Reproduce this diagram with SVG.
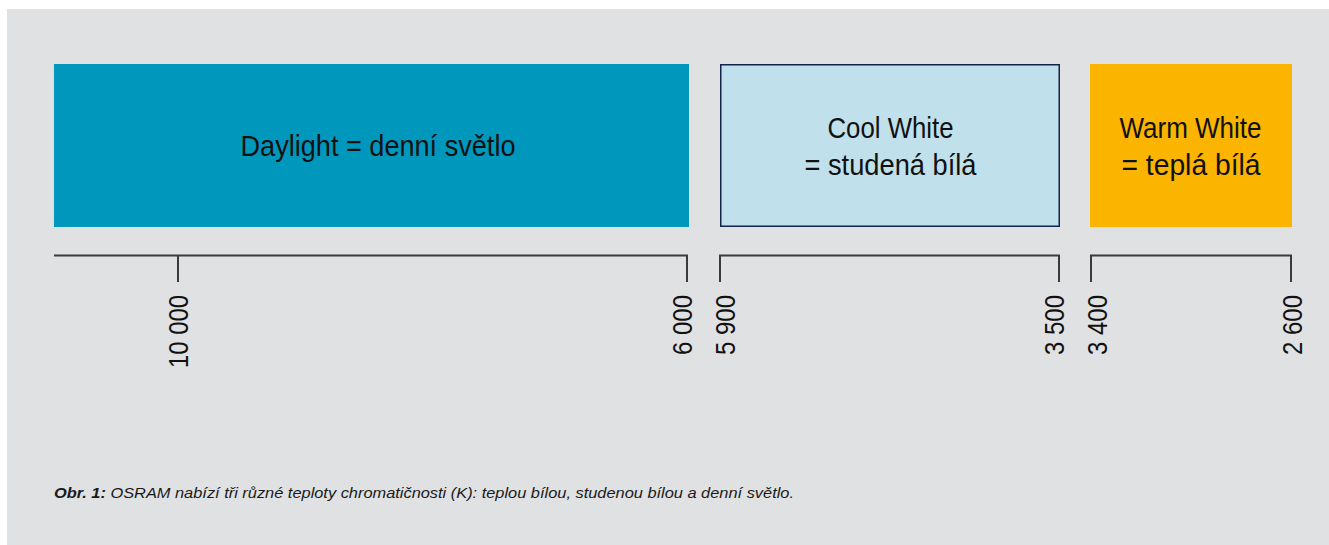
<svg xmlns="http://www.w3.org/2000/svg" width="1329" height="545" viewBox="0 0 1329 545">
<style>
.box{font-family:"Liberation Sans",Arial,sans-serif;font-size:29px;fill:#111;text-anchor:middle}
.tick{font-family:"Liberation Sans",Arial,sans-serif;font-size:27px;fill:#111;text-anchor:end}
.axis{fill:none;stroke:#3a3a3a;stroke-width:2}
.cap{font-family:"Liberation Sans",Arial,sans-serif;font-size:15px;font-style:italic;fill:#1a1a1a}
</style>
<rect x="0" y="0" width="1329" height="545" fill="#ffffff"/>
<rect x="7" y="9" width="1322" height="536" fill="#e0e1e3"/>
<g id="daylight">
<rect x="54" y="64" width="635" height="163" fill="#0097bd"/>
<text class="box" x="378" y="156" textLength="275" lengthAdjust="spacingAndGlyphs">Daylight = denní světlo</text>
</g>
<g id="coolwhite">
<rect x="720.75" y="64.75" width="338.5" height="161.5" fill="#c0e0eb" stroke="#15234b" stroke-width="1.5"/>
<text class="box" x="890.5" y="138" textLength="126" lengthAdjust="spacingAndGlyphs">Cool White</text>
<text class="box" x="890.5" y="175" textLength="172" lengthAdjust="spacingAndGlyphs">= studená bílá</text>
</g>
<g id="warmwhite">
<rect x="1090" y="64" width="202" height="163" fill="#fbb400"/>
<text class="box" x="1190.5" y="138" textLength="142" lengthAdjust="spacingAndGlyphs">Warm White</text>
<text class="box" x="1191" y="175" textLength="139" lengthAdjust="spacingAndGlyphs">= teplá bílá</text>
</g>
<g id="connectors">
<path class="axis" d="M54,255.5 H687 V282"/>
<path class="axis" d="M178,255.5 V282"/>
<path class="axis" d="M720,282 V255.5 H1059 V282"/>
<path class="axis" d="M1091,282 V255.5 H1291 V282"/>
</g>
<g id="scale-labels">
<text class="tick" transform="translate(187.5,295) rotate(-90)" textLength="73" lengthAdjust="spacingAndGlyphs">10 000</text>
<text class="tick" transform="translate(692,295) rotate(-90)" textLength="60" lengthAdjust="spacingAndGlyphs">6 000</text>
<text class="tick" transform="translate(735,295) rotate(-90)" textLength="60" lengthAdjust="spacingAndGlyphs">5 900</text>
<text class="tick" transform="translate(1064,295) rotate(-90)" textLength="60" lengthAdjust="spacingAndGlyphs">3 500</text>
<text class="tick" transform="translate(1106.5,295) rotate(-90)" textLength="60" lengthAdjust="spacingAndGlyphs">3 400</text>
<text class="tick" transform="translate(1302,295) rotate(-90)" textLength="60" lengthAdjust="spacingAndGlyphs">2 600</text>
</g>
<g id="caption">
<text class="cap" x="54" y="497.5" textLength="740" lengthAdjust="spacingAndGlyphs"><tspan font-weight="bold">Obr. 1:</tspan> OSRAM nabízí tři různé teploty chromatičnosti (K): teplou bílou, studenou bílou a denní světlo.</text>
</g>
</svg>
